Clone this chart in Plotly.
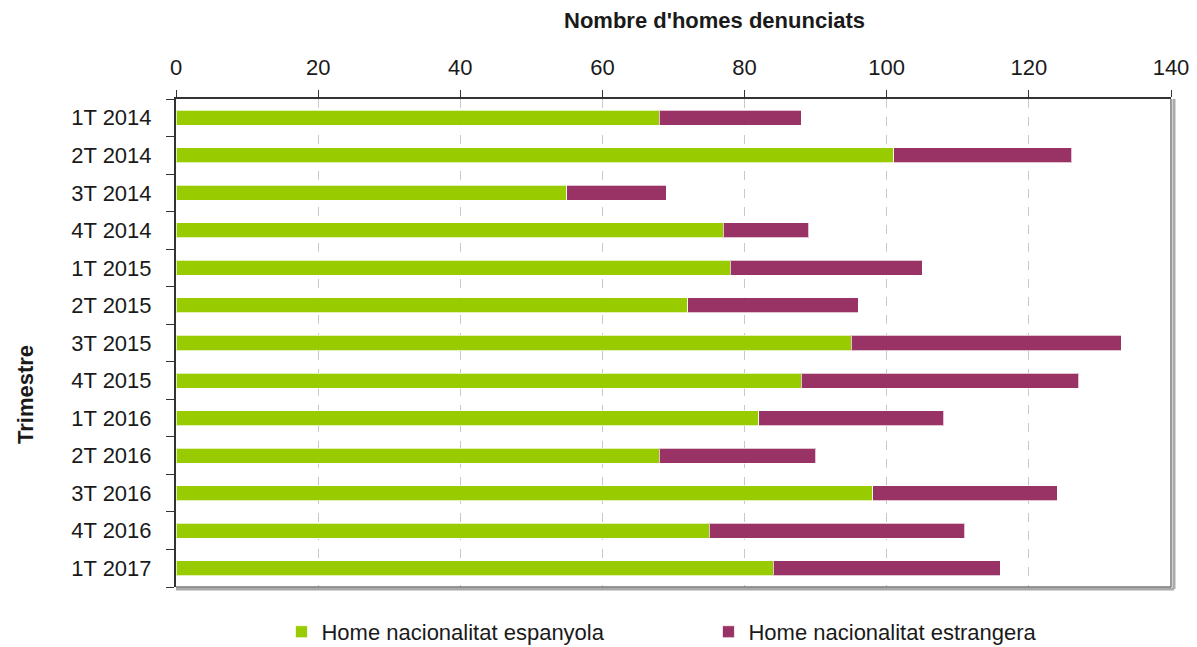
import plotly.graph_objects as go

quarters = ["1T 2014", "2T 2014", "3T 2014", "4T 2014", "1T 2015", "2T 2015", "3T 2015",
            "4T 2015", "1T 2016", "2T 2016", "3T 2016", "4T 2016", "1T 2017"]
espanyola = [68, 101, 55, 77, 78, 72, 95, 88, 82, 68, 98, 75, 84]
estrangera = [20, 25, 14, 12, 27, 24, 38, 39, 26, 22, 26, 36, 32]
x_ticks = [0, 20, 40, 60, 80, 100, 120, 140]

FONT = "Liberation Sans, Arial, sans-serif"
FS = 22
pos = list(range(len(quarters)))

fig = go.Figure()
fig.add_trace(go.Bar(y=pos, x=espanyola, orientation="h", name="Home nacionalitat espanyola",
                     marker=dict(color="#99CC00", line=dict(color="rgba(255,255,255,0.7)", width=1)),
                     width=0.4))
fig.add_trace(go.Bar(y=pos, x=estrangera, orientation="h", name="Home nacionalitat estrangera",
                     marker=dict(color="#993366", line=dict(color="rgba(255,255,255,0.7)", width=1)),
                     width=0.4))

fig.update_layout(
    barmode="stack",
    width=1197, height=647,
    margin=dict(l=168, r=34, t=91, b=68, autoexpand=False),
    plot_bgcolor="white", paper_bgcolor="white",
    font=dict(family=FONT, size=FS, color="#1a1a1a"),
    legend=dict(orientation="h", x=0.106, xanchor="left", y=-0.049, yanchor="top",
                entrywidth=382, entrywidthmode="pixels",
                font=dict(family=FONT, size=FS, color="#1a1a1a"),
                itemwidth=30, traceorder="normal"),
    showlegend=True,
    annotations=[
        dict(text="<b>Nombre d'homes denunciats</b>", xref="paper", yref="paper",
             x=(714 - 176) / 995, y=(99 - 20) / 488 + 1, xanchor="center", yanchor="middle",
             showarrow=False, font=dict(size=FS, family=FONT, color="#1a1a1a")),
        dict(text="<b>Trimestre</b>", xref="paper", yref="paper", textangle=-90,
             x=(25 - 176) / 995, y=(587 - 395) / 488, xanchor="center", yanchor="middle",
             showarrow=False, font=dict(size=FS, family=FONT, color="#1a1a1a")),
    ],
)
fig.update_xaxes(
    side="top", range=[0, 140], tickvals=x_ticks, ticks="outside", ticklen=7,
    tickcolor="#333333", showline=True, linecolor="#333333", linewidth=2,
    showgrid=True, gridcolor="#C8C8C8", griddash="dash", gridwidth=1,
    zeroline=False, tickfont=dict(size=FS), automargin=False, ticklabelstandoff=6,
)
fig.update_yaxes(
    range=[len(quarters) - 0.5, -0.5], tickvals=pos, ticktext=quarters, ticks="",
    showline=True, linecolor="#333333", linewidth=2, showgrid=False, zeroline=False,
    ticklabelstandoff=18, automargin=False,
    minor=dict(tickvals=[p - 0.5 for p in pos] + [len(quarters) - 0.5], ticks="outside",
               ticklen=8, tickcolor="#333333", showgrid=False),
)
# frame right / bottom (gray with shadow)
fig.add_shape(type="line", xref="paper", yref="paper", x0=1.003, x1=1.003, y0=-0.004, y1=1,
              line=dict(color="#AAAAAA", width=3))
fig.add_shape(type="line", xref="paper", yref="paper", x0=0, x1=1.003, y0=-0.004, y1=-0.004,
              line=dict(color="#AAAAAA", width=3))
fig.add_shape(type="line", xref="paper", yref="paper", x0=1, x1=1, y0=0, y1=1,
              line=dict(color="#777777", width=1.5))
fig.add_shape(type="line", xref="paper", yref="paper", x0=0, x1=1, y0=0, y1=0,
              line=dict(color="#777777", width=1.5))

fig.write_html("out.html")
